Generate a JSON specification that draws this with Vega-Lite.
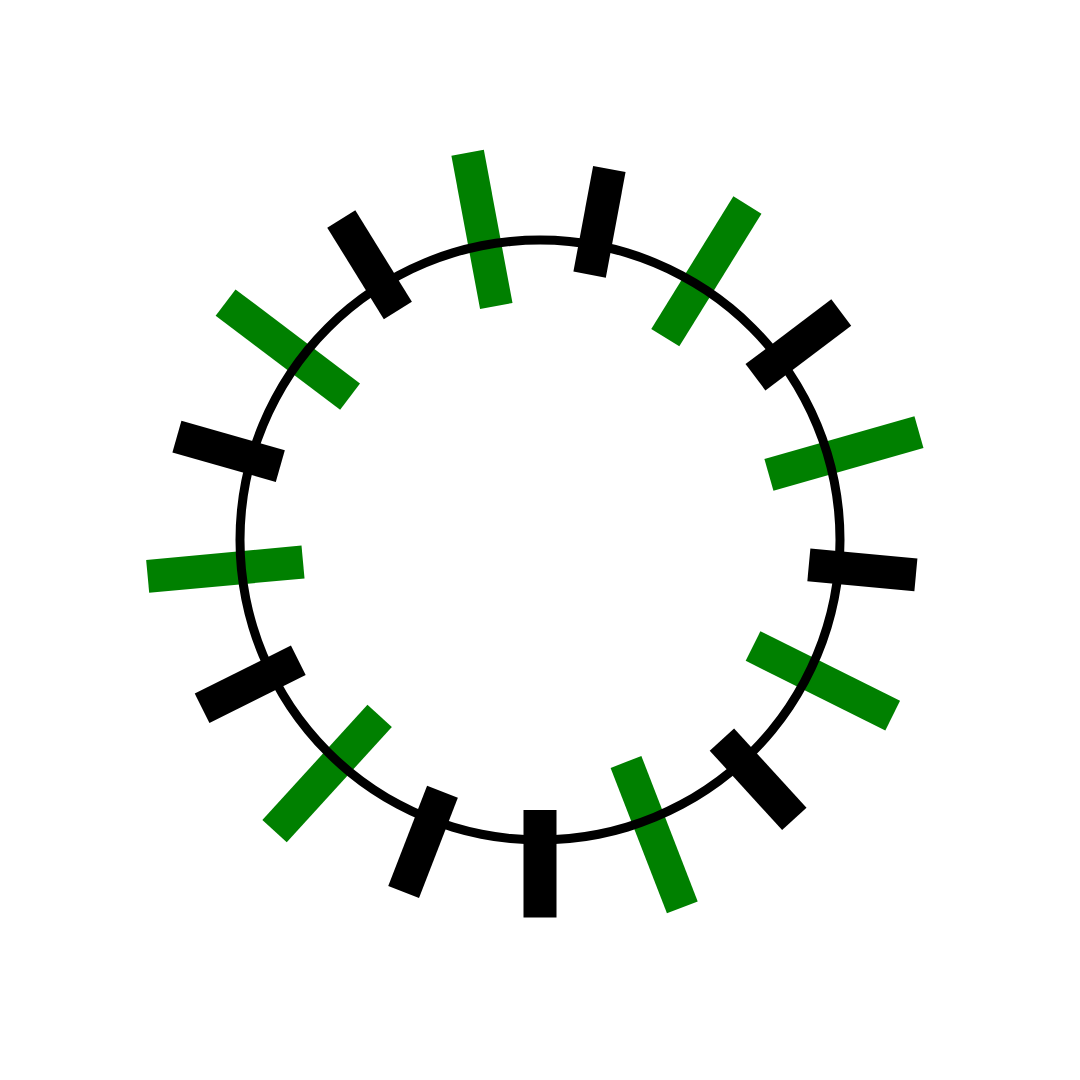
{
  "$schema": "https://vega.github.io/schema/vega-lite/v6.json",
  "width": 1080, "height": 1080,
  "autosize": {"type": "fit", "contains": "padding"},
  "padding": 0,
  "background": "white",
  "config": {"view": {"stroke": null}},
  "datasets": {
    "bars": [
      {"k": 0, "group": "black", "x": 49.61, "y": 265.40, "x2": 69.37, "y2": 371.07},
      {"k": 1, "group": "green", "x": 125.29, "y": 202.35, "x2": 207.41, "y2": 334.99},
      {"k": 2, "group": "black", "x": 215.47, "y": 162.71, "x2": 301.25, "y2": 227.49},
      {"k": 3, "group": "green", "x": 228.92, "y": 65.13, "x2": 378.96, "y2": 107.82},
      {"k": 4, "group": "black", "x": 268.85, "y": -24.91, "x2": 375.89, "y2": -34.83},
      {"k": 5, "group": "green", "x": 213.05, "y": -106.09, "x2": 352.69, "y2": -175.63},
      {"k": 6, "group": "black", "x": 181.90, "y": -199.53, "x2": 254.32, "y2": -278.98},
      {"k": 7, "group": "green", "x": 85.98, "y": -221.93, "x2": 142.33, "y2": -367.39},
      {"k": 8, "group": "black", "x": 0, "y": -270, "x2": 0, "y2": -377.5},
      {"k": 9, "group": "black", "x": -97.53, "y": -251.77, "x2": -136.37, "y2": -352.01},
      {"k": 10, "group": "green", "x": -160.34, "y": -175.88, "x2": -265.44, "y2": -291.17},
      {"k": 11, "group": "black", "x": -241.69, "y": -120.35, "x2": -337.92, "y2": -168.27},
      {"k": 12, "group": "green", "x": -236.98, "y": -21.96, "x2": -392.32, "y2": -36.35},
      {"k": 13, "group": "black", "x": -259.69, "y": 73.89, "x2": -363.09, "y2": 103.31},
      {"k": 14, "group": "green", "x": -189.93, "y": 143.43, "x2": -314.42, "y2": 237.44},
      {"k": 15, "group": "black", "x": -142.14, "y": 229.56, "x2": -198.73, "y2": 320.96},
      {"k": 16, "group": "green", "x": -43.73, "y": 233.95, "x2": -72.40, "y2": 387.29}
    ],
    "ring": [
      {"r": 300}
    ]
  },
  "layer": [
    {
      "data": {"name": "bars"},
      "mark": {"type": "rule", "strokeWidth": 33, "strokeCap": "butt"},
      "encoding": {
        "x": {"field": "x", "type": "quantitative", "scale": {"domain": [-540, 540], "nice": false, "zero": false}, "axis": null},
        "y": {"field": "y", "type": "quantitative", "scale": {"domain": [-540, 540], "nice": false, "zero": false}, "axis": null},
        "x2": {"field": "x2"},
        "y2": {"field": "y2"},
        "color": {
          "field": "group", "type": "nominal",
          "scale": {"domain": ["black", "green"], "range": ["#000000", "#008000"]},
          "legend": null
        }
      }
    },
    {
      "data": {"name": "ring"},
      "mark": {"type": "arc", "theta": 0, "theta2": 6.2832, "radius": 295.5, "radius2": 304.5, "fill": "#000000", "stroke": null},
      "encoding": {}
    }
  ]
}
